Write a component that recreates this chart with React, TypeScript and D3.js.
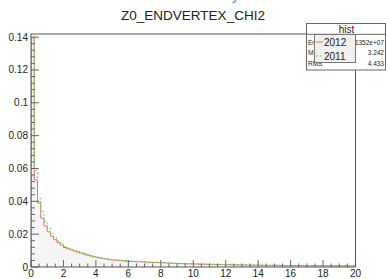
import React from "react";
import * as d3 from "d3";

const W = 386;
const H = 279;

const xTicks = [0, 2, 4, 6, 8, 10, 12, 14, 16, 18, 20];
const yTicks = [0, 0.02, 0.04, 0.06, 0.08, 0.1, 0.12, 0.14];
const yTickLabels = ["0", "0.02", "0.04", "0.06", "0.08", "0.1", "0.12", "0.14"];

const binWidth = 0.2;

const series2012 = [
  0.1395, 0.0530, 0.0390, 0.0298, 0.0250, 0.0214, 0.0188, 0.0166, 0.0148, 0.0133,
  0.0119, 0.0111, 0.0104, 0.0097, 0.0090, 0.0085, 0.0078, 0.0072, 0.0067, 0.0062,
  0.0058, 0.0054, 0.0051, 0.0048, 0.0045, 0.0043, 0.0041, 0.0039, 0.0037, 0.0036,
  0.0035, 0.0034, 0.0033, 0.0032, 0.0031, 0.0030, 0.0029, 0.0028, 0.0028, 0.0027,
  0.0026, 0.0025, 0.0024, 0.0023, 0.0022, 0.0021, 0.0021, 0.0020, 0.0019, 0.0019,
  0.0018, 0.0018, 0.0017, 0.0017, 0.0016, 0.0016, 0.0016, 0.0015, 0.0015, 0.0014,
  0.0014, 0.0014, 0.0013, 0.0013, 0.0013, 0.0012, 0.0012, 0.0012, 0.0011, 0.0011,
  0.0011, 0.0011, 0.0010, 0.0010, 0.0010, 0.0010, 0.00098, 0.00095, 0.00093, 0.00092,
  0.00090, 0.00089, 0.00087, 0.00086, 0.00085, 0.00084, 0.00082, 0.00081, 0.00080, 0.00080,
  0.00079, 0.00078, 0.00077, 0.00076, 0.00075, 0.00074, 0.00073, 0.00072, 0.00071, 0.00070,
];

const series2011 = [
  0.145, 0.0586, 0.0418, 0.0337, 0.0276, 0.0235, 0.0204, 0.0178, 0.0159, 0.0141,
  0.0125, 0.0117, 0.0109, 0.0101, 0.0094, 0.0089, 0.0082, 0.0076, 0.0070, 0.0065,
  0.0061, 0.0057, 0.0053, 0.0050, 0.0047, 0.0045, 0.0043, 0.0041, 0.0039, 0.0038,
  0.0036, 0.0035, 0.0034, 0.0033, 0.0032, 0.0031, 0.0030, 0.0029, 0.0029, 0.0028,
  0.0027, 0.0026, 0.0025, 0.0024, 0.0023, 0.0022, 0.0022, 0.0021, 0.0020, 0.0020,
  0.0019, 0.0019, 0.0018, 0.0018, 0.0017, 0.0017, 0.0016, 0.0016, 0.0015, 0.0015,
  0.0015, 0.0014, 0.0014, 0.0013, 0.0013, 0.0013, 0.0012, 0.0012, 0.0012, 0.0011,
  0.0011, 0.0011, 0.0011, 0.0010, 0.0010, 0.0010, 0.0010, 0.00097, 0.00095, 0.00093,
  0.00091, 0.00090, 0.00088, 0.00087, 0.00086, 0.00085, 0.00083, 0.00082, 0.00081, 0.00080,
  0.00080, 0.00079, 0.00078, 0.00077, 0.00076, 0.00075, 0.00074, 0.00073, 0.00072, 0.00071,
];

const legendLabels = ["2012", "2011"];
const statsTitle = "hist";
const statsNames = ["Entries", "Mean", "RMS"];
const statsValues = ["1.1352e+07", "3.242", "4.433"];

const FONT = "'Liberation Sans', Arial, Helvetica, sans-serif";

export default function App() {
  const left = 31, right = 355.5, top = 34, bottom = 267;
  const x = d3.scaleLinear().domain([0, 20]).range([left, right]);
  const y = d3.scaleLinear().domain([0, 0.1419]).range([bottom, top]);

  const pts = (vals: number[]) => {
    const p: [number, number][] = vals.map((v, i) => [i * binWidth, v]);
    p.push([vals.length * binWidth, vals[vals.length - 1]]);
    return p;
  };

  const line = d3
    .line<[number, number]>()
    .x((d) => x(d[0]))
    .y((d) => y(d[1]))
    .curve(d3.curveStepAfter);
  const area = d3
    .area<[number, number]>()
    .x((d) => x(d[0]))
    .y0(y(0))
    .y1((d) => y(d[1]))
    .curve(d3.curveStepAfter);

  const redPts: [number, number][] = [[0, 0], ...pts(series2012), [20, 0]];
  const greenPts: [number, number][] = [[0, 0], ...pts(series2011), [20, 0]];

  const xMinor = d3.range(0, 20.001, 0.5);
  const yMinor = d3.range(0, 0.1419, 0.004);

  const red = "#f26b6b";
  const green = "#3fe83f";

  return (
    <svg
      width={W}
      height={H}
      style={{ position: "absolute", left: 0, top: 0, background: "#fff" }}
      fontFamily={FONT}
    >
      <defs>
        <clipPath id="frame">
          <rect x={left} y={top} width={right - left} height={bottom - top} />
        </clipPath>
      </defs>
      <rect x={0} y={0} width={W} height={H} fill="#fff" />
      <text x={232} y={0} fontSize={14} fill="#2b8fe8">y</text>
      <text x={193} y={20} fontSize={13.5} textAnchor="middle" fill="#222">
        Z0_ENDVERTEX_CHI2
      </text>

      <g clipPath="url(#frame)">
        <path d={area(redPts) || ""} fill="#f5f5f5" />
        <path d={line(redPts) || ""} fill="none" stroke={red} strokeWidth={1} />
        <path
          d={line(greenPts) || ""}
          fill="none"
          stroke={green}
          strokeWidth={1}
          strokeDasharray="2,2"
        />
      </g>

      {/* ticks */}
      <g stroke="#666" strokeWidth={1}>
        {xMinor.map((t, i) => {
          const major = Math.abs(t / 2 - Math.round(t / 2)) < 1e-6;
          const len = major ? 7 : 3.5;
          return (
            <line key={"xm" + i} x1={x(t)} x2={x(t)} y1={bottom} y2={bottom - len} />
          );
        })}
        {yMinor.map((t, i) => {
          const major = Math.abs(t / 0.02 - Math.round(t / 0.02)) < 1e-6;
          const len = major ? 8 : 4;
          return (
            <line key={"ym" + i} x1={left} x2={left + len} y1={y(t)} y2={y(t)} />
          );
        })}
      </g>

      <rect
        x={left}
        y={top}
        width={right - left}
        height={bottom - top}
        fill="none"
        stroke="#555"
        strokeWidth={1}
      />

      {yTicks.map((t, i) => (
        <text
          key={"yl" + i}
          x={28}
          y={y(t) + 3.5}
          fontSize={10}
          textAnchor="end"
          fill="#222"
        >
          {yTickLabels[i]}
        </text>
      ))}
      {xTicks.map((t) => (
        <text
          key={"xl" + t}
          x={x(t)}
          y={277}
          fontSize={10}
          textAnchor="middle"
          fill="#222"
        >
          {t}
        </text>
      ))}

      {/* stats box */}
      <rect x={306.5} y={23.5} width={79} height={46.5} fill="#fff" stroke="#666" />
      <line x1={306.5} x2={386} y1={34.3} y2={34.3} stroke="#666" />
      <text x={346.5} y={32.5} fontSize={10} textAnchor="middle" fill="#222">
        {statsTitle}
      </text>
      {statsNames.map((n, i) => (
        <text key={"sn" + i} x={308} y={44.5 + i * 10.7} fontSize={6.5} fill="#222">
          {n}
        </text>
      ))}
      {statsValues.map((v, i) => (
        <text
          key={"sv" + i}
          x={384}
          y={44.5 + i * 10.7}
          fontSize={6.5}
          textAnchor="end"
          fill="#222"
        >
          {v}
        </text>
      ))}

      {/* legend */}
      <rect x={314.5} y={34.5} width={41} height={28} fill="#f0f0f0" stroke="#777" />
      {legendLabels.map((l, i) => (
        <g key={l}>
          <line
            x1={316}
            x2={323}
            y1={42 + i * 14}
            y2={42 + i * 14}
            stroke={i === 0 ? red : green}
            strokeDasharray={i === 0 ? undefined : "2,1.5"}
          />
          <text x={324} y={45.8 + i * 14} fontSize={10} fill="#222">
            {l}
          </text>
        </g>
      ))}
    </svg>
  );
}
